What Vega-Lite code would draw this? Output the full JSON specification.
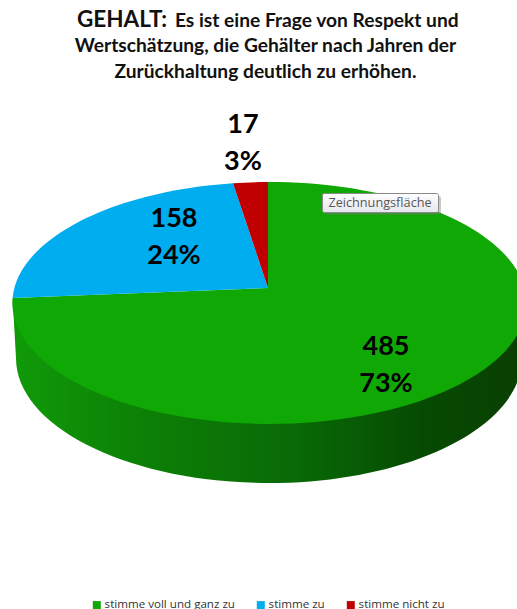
{"$schema":"https://vega.github.io/schema/vega-lite/v6.json","width":517,"height":609,"padding":0,"autosize":{"type":"none"},"background":"white","config":{"view":{"stroke":null}},
"title":{"text":["\u200B\u00A0\u00A0\u00A0\u00A0\u00A0\u00A0\u00A0\u00A0\u00A0\u00A0\u00A0\u00A0\u00A0\u00A0\u00A0\u00A0\u00A0\u00A0\u00A0\u00A0\u00A0\u00A0Es ist eine Frage von Respekt und","Wertschätzung, die Gehälter nach Jahren der","Zurückhaltung deutlich zu erhöhen."],"font":"Lato","fontSize":19.2,"fontWeight":"bold","color":"#111111","lineHeight":25.5,"anchor":"middle","frame":"group","dx":7,"offset":-82},
"data":{"values":[{"category":"stimme voll und ganz zu","count":485,"share":"73%"},{"category":"stimme zu","count":158,"share":"24%"},{"category":"stimme nicht zu","count":17,"share":"3%"}]},
"resolve":{"scale":{"x":"independent","y":"independent"}},
"layer":[
{"transform":[{"filter":"datum.count == 485"}],"mark":{"type":"point","filled":true,"opacity":1,"size":4,"shape":"M-255.4,10A257,121 0 0 0 258.5,15L254,70A253,125 0 0 1 -252,70Z","fill":{"gradient":"linear","x1":0,"x2":1,"y1":0,"y2":0,"stops":[{"offset":0,"color":"#109A08"},{"offset":0.25,"color":"#0C8006"},{"offset":0.55,"color":"#096A06"},{"offset":0.8,"color":"#064A02"},{"offset":1,"color":"#0A3F02"}]}},"encoding":{"x":{"field":"count","type":"quantitative","scale":{"domain":[17,485],"range":[268,268],"zero":false,"nice":false},"axis":null},"y":{"field":"count","type":"quantitative","scale":{"domain":[17,485],"range":[288,288],"zero":false,"nice":false},"axis":null}}},
{"mark":{"type":"point","filled":true,"opacity":1,"size":4},"encoding":{"x":{"field":"count","type":"quantitative","scale":{"domain":[17,485],"range":[268,268],"zero":false,"nice":false},"axis":null},"y":{"field":"count","type":"quantitative","scale":{"domain":[17,485],"range":[288,288],"zero":false,"nice":false},"axis":null},
"shape":{"field":"share","type":"nominal","scale":{"domain":["73%","24%","3%"],"range":["M0,0L0,-106A257,121 0 1 1 -255.4,10Z","M0,0L-255.4,10A257,121 0 0 1 -35,-104.8Z","M0,0L-35,-104.8A257,121 0 0 1 0,-106Z"]},"legend":null},
"color":{"field":"category","type":"nominal","scale":{"domain":["stimme voll und ganz zu","stimme zu","stimme nicht zu"],"range":["#10A804","#00AEEF","#C00000"]},"legend":{"title":null,"orient":"none","legendX":91,"legendY":599,"direction":"horizontal","symbolType":"square","symbolSize":64,"labelFont":"Open Sans","labelFontSize":11.6,"labelColor":"#333333","labelOffset":2,"columnPadding":20,"symbolOpacity":1}}}},
{"transform":[{"calculate":"datum.count + '\\n' + datum.share","as":"label"}],"mark":{"type":"text","font":"Lato","fontSize":27,"fontWeight":"bold","color":"#000000","lineBreak":"\n","lineHeight":37,"baseline":"middle","align":"center"},"encoding":{"x":{"field":"count","type":"quantitative","scale":{"domain":[17,158,485],"range":[243,174,386],"zero":false,"nice":false},"axis":null},"y":{"field":"count","type":"quantitative","scale":{"domain":[17,158,485],"range":[125,219,347],"zero":false,"nice":false},"axis":null},"text":{"field":"label"}}},
{"data":{"values":[{"note":"Zeichnungsfläche"}]},"mark":{"type":"rect","fill":"#777777","opacity":0.4,"cornerRadius":2},"encoding":{"x":{"datum":325,"type":"quantitative","scale":{"domain":[0,517],"range":[0,517]},"axis":null},"x2":{"datum":441},"y":{"datum":196,"type":"quantitative","scale":{"domain":[0,609],"range":[0,609]},"axis":null},"y2":{"datum":215}}},
{"data":{"values":[{"note":"Zeichnungsfläche"}]},"mark":{"type":"rect","stroke":"#8A8A8A","strokeWidth":1,"cornerRadius":2,"fill":{"gradient":"linear","x1":0,"x2":0,"y1":0,"y2":1,"stops":[{"offset":0,"color":"#FFFFFF"},{"offset":1,"color":"#E6E6EE"}]}},"encoding":{"x":{"datum":322.5,"type":"quantitative","scale":{"domain":[0,517],"range":[0,517]},"axis":null},"x2":{"datum":438.5},"y":{"datum":193.5,"type":"quantitative","scale":{"domain":[0,609],"range":[0,609]},"axis":null},"y2":{"datum":212.5}}},
{"data":{"values":[{"note":"Zeichnungsfläche"}]},"mark":{"type":"text","font":"Open Sans","fontSize":12.7,"color":"#575757","align":"center","baseline":"middle"},"encoding":{"x":{"datum":380,"type":"quantitative","scale":{"domain":[0,517],"range":[0,517]},"axis":null},"y":{"datum":203,"type":"quantitative","scale":{"domain":[0,609],"range":[0,609]},"axis":null},"text":{"field":"note"}}},
{"data":{"values":[{"note":"GEHALT:"}]},"mark":{"type":"text","font":"Lato","fontSize":22.5,"fontWeight":"bold","color":"#111111","align":"left","baseline":"alphabetic"},"encoding":{"x":{"datum":77,"type":"quantitative","scale":{"domain":[0,517],"range":[0,517]},"axis":null},"y":{"datum":27,"type":"quantitative","scale":{"domain":[0,609],"range":[0,609]},"axis":null},"text":{"field":"note"}}}
]}
